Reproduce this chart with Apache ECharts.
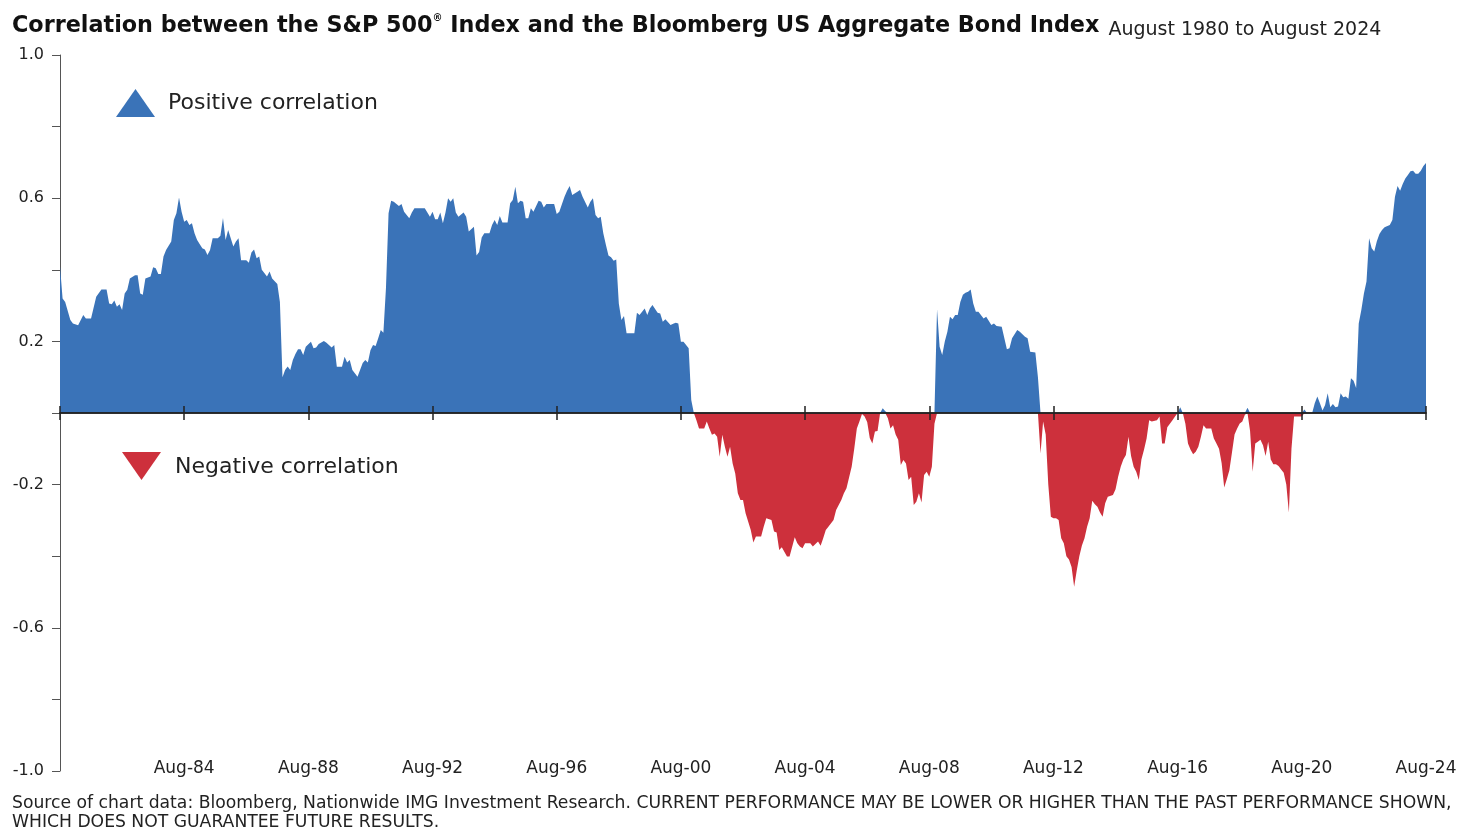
<!DOCTYPE html>
<html><head><meta charset="utf-8">
<script src="https://cdn.jsdelivr.net/npm/echarts@6/dist/echarts.min.js"></script>
<style>html,body{margin:0;padding:0;background:#fff}#c{width:1480px;height:839px}</style>
</head><body><div id="c"></div>
<script>
// months since Aug 1980
const monthIndex = [
0,1,2,4,5,7,9,10,12,14,16,18,19,20,21,22,23,24,25,26,27,29,30,31,32,33,35,36,37,38,39,40,41,43,44,45,46,47,48,49,50,51,52,53,55,56,57,58,59,61,62,63,64,65,66,67,68,69,70,72,73,74,75,76,77,78,80,81,82,84,85,86,87,88,89,90,
91,92,93,94,95,97,98,99,100,102,103,105,106,107,109,110,111,112,113,115,117,118,119,120,121,122,123,124,125,126,127,128,129,131,132,133,135,136,137,141,143,144,145,146,147,148,149,150,151,152,153,154,156,157,158,160,161,162,163,164,166,167,168,169,170,171,173,174,175,176,177,178,179,180,181,182,183,185,186,187,188,191,192,193,195,196,197,198,200,201,202,204,205,206,207,208,209,210,211,212,213,214,215,216,217,218,219,222,223,224,226,227,228,229,231,232,233,234,236,237,238,239,240,241,243,244,245,
246,247,249,250,251,252,253,254,255,256,257,258,259,260,261,262,263,264,265,267,268,269,271,272,273,275,276,277,278,279,281,282,284,285,286,287,288,290,291,293,294,295,296,297,299,300,302,303,304,305,306,307,308,309,310,311,312,313,314,315,316,317,318,319,320,321,322,323,324,325,326,327,328,329,330,331,332,333,334,335,336,337,338,
339,340,341,342,343,344,345,346,347,348,349,350,351,352,353,354,355,357,358,360,361,362,364,366,367,368,370,371,373,374,375,377,378,
379,380,381,382,383,384,385,386,387,388,389,390,391,392,393,394,395,396,397,398,399,400,401,402,403,404,405,407,408,409,410,411,412,413,414,415,416,417,418,419,420,421,422,424,425,426,427,428,429,430,431,432,433,434,435,436,437,438,439,440,441,442,443,445,446,447,448,449,450,451,452,453,454,455,456,457,458,459,460,461,462,463,464,465,466,467,468,469,470,471,472,473,474,475,476,477,480,481,482,484,
485,486,487,488,489,490,491,492,493,494,495,496,497,498,499,500,501,502,503,504,505,506,507,508,509,510,511,512,514,515,516,517,518,519,520,521,522,523,524,525,526,527,528
];
const correlation = [
.41,.32,.31,.26,.25,.245,.274,.264,.264,.325,.345,.345,.306,.304,.314,.297,.304,.288,.334,.344,.376,.385,.385,.334,.33,.376,.381,.407,.404,.388,.388,.437,.455,.479,.539,.558,.602,.562,.534,.539,.525,.53,.502,.483,.46,.457,.441,.455,.488,.488,.495,.545,.483,.511,.488,.465,.479,.488,.427,.427,.42,.448,.457,.432,.437,.40,.381,.395,.376,.36,.31,.10,.12,.13,.12,.148,
.165,.178,.178,.162,.185,.199,.181,.183,.193,.201,.196,.183,.19,.129,.129,.157,.141,.148,.12,.101,.14,.148,.141,.175,.19,.187,.209,.232,.224,.35,.558,.593,.59,.578,.584,.562,.544,.56,.572,.572,.548,.562,.541,.541,.56,.53,.56,.60,.59,.60,.56,.548,.56,.548,.507,.52,.44,.45,.49,.502,.502,.525,.539,.525,.55,.532,.532,.586,.595,.632,.586,.593,.59,.544,.544,.572,.562,.593,.59,.574,.584,.584,.556,.562,.604,.621,.634,.609,.618,.623,.604,.574,.59,.60,.553,.544,.548,.502,.47,.44,.435,.425,.429,.306,.26,.271,.223,.223,.28,.274,.292,.274,.292,.302,.28,.278,.255,.262,.246,.249,.252,.25,.199,.199,.181,.036,0,
-.02,-.043,-.043,-.024,-.043,-.061,-.057,-.066,-.122,-.061,-.094,-.122,-.094,-.141,-.169,-.224,-.243,-.243,-.28,-.327,-.362,-.345,-.345,-.318,-.294,-.299,-.331,-.334,-.383,-.375,-.401,-.401,-.347,-.364,-.373,-.378,-.364,-.364,-.373,-.359,-.371,-.35,-.327,-.318,-.299,-.271,-.243,-.224,-.21,-.18,-.15,-.10,-.043,-.024,-.003,-.01,-.025,-.07,-.085,-.052,-.05,0,.013,.005,-.015,-.043,-.034,-.06,-.075,-.145,-.131,-.141,-.187,-.178,-.257,-.248,-.224,-.25,-.173,-.164,-.178,-.15,-.03,
.29,.185,.162,.2,.227,.269,.262,.274,.274,.31,.33,.336,.339,.345,.306,.283,.283,.264,.269,.246,.25,.243,.241,.178,.181,.209,.232,.227,.213,.209,.171,.169,.10,
-.113,-.024,-.06,-.2,-.29,-.294,-.294,-.299,-.35,-.364,-.40,-.409,-.43,-.485,-.44,-.40,-.37,-.35,-.318,-.294,-.245,-.255,-.262,-.278,-.29,-.252,-.234,-.229,-.213,-.178,-.15,-.13,-.117,-.066,-.12,-.15,-.164,-.187,-.13,-.103,-.071,-.02,-.024,-.02,-.01,-.085,-.085,-.04,-.03,-.02,-.01,0,.016,0,-.03,-.085,-.103,-.115,-.108,-.094,-.066,-.034,-.043,-.043,-.071,-.085,-.1,-.14,-.208,-.185,-.16,-.11,-.06,-.043,-.029,-.024,-.005,.015,-.05,-.164,-.085,-.08,-.075,-.09,-.12,-.08,-.13,-.143,-.143,-.148,-.158,-.167,-.2,-.278,-.1,-.01,-.01,.01,0,0,
.027,.046,.027,.007,.022,.055,.016,.025,.016,.018,.055,.044,.046,.04,.097,.09,.07,.25,.288,.334,.367,.488,.46,.451,.48,.5,.511,.519,.525,.539,.604,.634,.621,.64,.655,.665,.675,.677,.668,.668,.677,.69,.698
];
const xTickLabels = ['Aug-84','Aug-88','Aug-92','Aug-96','Aug-00','Aug-04','Aug-08','Aug-12','Aug-16','Aug-20','Aug-24'];
const legendLabels = ['Positive correlation','Negative correlation'];

const BLUE = '#3A73B8', RED = '#CD303C';
const FONT = '"DejaVu Sans", Verdana, sans-serif';
const positiveData = monthIndex.map((m, i) => [m, Math.max(correlation[i], 0)]);
const negativeData = monthIndex.map((m, i) => [m, Math.min(correlation[i], 0)]);

const chart = echarts.init(document.getElementById('c'), null, {renderer: 'canvas'});
chart.setOption({
  animation: false,
  backgroundColor: '#fff',
  title: {
    left: 7, top: 8,
    text: '{b|Correlation between the S&P 500}{sup|®}{b| Index and the Bloomberg US Aggregate Bond Index}{s| August 1980 to August 2024}',
    textStyle: {
      rich: {
        b: {fontFamily: FONT, fontWeight: 'bold', fontSize: 22.3, color: '#111', lineHeight: 27},
        sup: {fontFamily: FONT, fontWeight: 'bold', fontSize: 10, color: '#111', verticalAlign: 'top', lineHeight: 14},
        s: {fontFamily: FONT, fontWeight: 'normal', fontSize: 19, color: '#222', lineHeight: 25, verticalAlign: 'bottom', padding: [0, 0, 0, 3]}
      }
    }
  },
  grid: {left: 60, right: 54, top: 55, bottom: 68, containLabel: false},
  xAxis: [
    {
      type: 'value', min: 0, max: 528, interval: 48, position: 'bottom',
      axisLine: {show: false, onZero: false}, axisTick: {show: false}, splitLine: {show: false},
      axisLabel: {
        show: true, margin: -2, verticalAlign: 'middle', color: '#222', fontFamily: FONT, fontSize: 17,
        formatter: v => v === 0 ? '' : xTickLabels[v / 48 - 1]
      }
    },
    {
      type: 'value', min: 0, max: 528, interval: 48, position: 'bottom', z: 10,
      axisLine: {show: true, onZero: true, onZeroAxisIndex: 0, lineStyle: {color: '#222', width: 1.5}},
      axisTick: {show: true, inside: false, length: 7, lineStyle: {color: '#222', width: 1.5}},
      axisLabel: {show: false}, splitLine: {show: false}
    },
    {
      type: 'value', min: 0, max: 528, interval: 48, position: 'top', z: 10,
      axisLine: {show: true, onZero: true, onZeroAxisIndex: 1, lineStyle: {color: '#222', width: 1.5}},
      axisTick: {show: true, inside: false, length: 7, lineStyle: {color: '#222', width: 1.5}},
      axisLabel: {show: false}, splitLine: {show: false}
    }
  ],
  yAxis: [
    {
      type: 'value', min: -1, max: 1, interval: 0.2,
      axisLine: {show: true, onZero: false, lineStyle: {color: '#555', width: 1}},
      axisTick: {show: true, length: 8, lineStyle: {color: '#555', width: 1}},
      splitLine: {show: false},
      axisLabel: {
        margin: 16, color: '#222', fontFamily: FONT, fontSize: 16,
        formatter: v => ((Math.round(v * 10) + 10) % 4 === 0) ? v.toFixed(1) : ''
      }
    },
    {
      type: 'value', min: -1, max: 1, interval: 0.2, position: 'right',
      axisLine: {show: false, onZero: false}, axisTick: {show: false},
      axisLabel: {show: false}, splitLine: {show: false}
    }
  ],
  series: [
    {type: 'line', name: legendLabels[0], xAxisIndex: 0, yAxisIndex: 0, data: positiveData, showSymbol: false, symbol: 'none',
     lineStyle: {width: 0}, itemStyle: {color: BLUE}, areaStyle: {color: BLUE, opacity: 1}, z: 2},
    {type: 'line', name: legendLabels[1], xAxisIndex: 0, yAxisIndex: 0, data: negativeData, showSymbol: false, symbol: 'none',
     lineStyle: {width: 0}, itemStyle: {color: RED}, areaStyle: {color: RED, opacity: 1}, z: 2}
  ],
  graphic: [
    {type: 'polygon', shape: {points: [[116, 117], [135.5, 89], [155, 117]]}, style: {fill: BLUE}},
    {type: 'text', x: 168, y: 103, style: {text: legendLabels[0], fill: '#222', font: '22px ' + FONT, verticalAlign: 'middle'}},
    {type: 'polygon', shape: {points: [[122, 452], [161, 452], [141.5, 480]]}, style: {fill: RED}},
    {type: 'text', x: 175, y: 467, style: {text: legendLabels[1], fill: '#222', font: '22px ' + FONT, verticalAlign: 'middle'}},
    {type: 'text', x: 12, y: 804, style: {text: 'Source of chart data: Bloomberg, Nationwide IMG Investment Research. CURRENT PERFORMANCE MAY BE LOWER OR HIGHER THAN THE PAST PERFORMANCE SHOWN,', fill: '#222', font: '17.2px ' + FONT, verticalAlign: 'middle'}},
    {type: 'text', x: 12, y: 823, style: {text: 'WHICH DOES NOT GUARANTEE FUTURE RESULTS.', fill: '#222', font: '17.2px ' + FONT, verticalAlign: 'middle'}}
  ]
});
</script></body></html>
